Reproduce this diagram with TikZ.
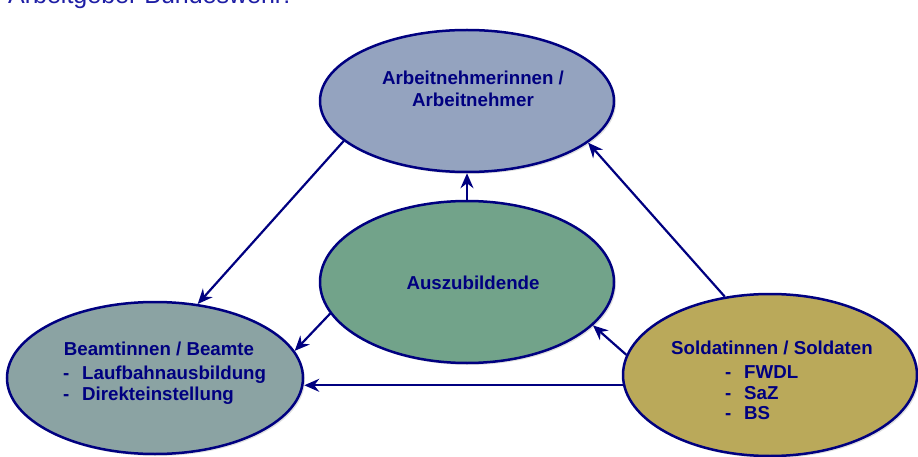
\documentclass[tikz,border=0pt]{standalone}
\usepackage{fontspec}
\setmainfont{Liberation Sans}
\usetikzlibrary{shapes.geometric,arrows.meta,shadows}
\definecolor{navy}{RGB}{0,0,128}
\definecolor{titleblue}{RGB}{30,30,165}
\definecolor{fillT}{RGB}{148,163,191}
\definecolor{fillM}{RGB}{114,163,138}
\definecolor{fillL}{RGB}{139,163,163}
\definecolor{fillR}{RGB}{186,169,90}
\tikzset{
  bubble/.style={ellipse, draw=navy, line width=2.5pt, inner sep=0pt,
    drop shadow={shadow xshift=2pt, shadow yshift=-2pt, opacity=0.25}},
  lbl/.style={text=navy, font=\fontsize{18.7}{22}\selectfont\bfseries, inner sep=0pt},
  arr/.style={draw=navy, line width=2.2pt, -{Stealth[length=15pt,width=13pt,inset=5pt]}}
}
\begin{document}
\begin{tikzpicture}[x=1pt,y=-1pt]
\useasboundingbox (0,0) rectangle (918,457);
\node[anchor=base west, inner sep=0pt, text=titleblue, font=\fontsize{25}{30}\selectfont] (title) at (8,4) {Arbeitgeber Bundeswehr:};

\node[bubble, fill=fillT, minimum width=294pt, minimum height=142pt] (T) at (467,101) {};
\node[bubble, fill=fillM, minimum width=294pt, minimum height=162pt] (M) at (467,282) {};
\node[bubble, fill=fillL, minimum width=296pt, minimum height=152pt] (L) at (155,378) {};
\node[bubble, fill=fillR, minimum width=294pt, minimum height=162pt] (R) at (770,375) {};

% texts
\node[lbl, anchor=base] (t1) at (473,85) {Arbeitnehmerinnen /};
\node[lbl, anchor=base] (t2) at (473,107) {Arbeitnehmer};
\node[lbl, anchor=base] (m1) at (473,289) {Auszubildende};

\node[lbl, anchor=base] (l1) at (159,355) {Beamtinnen / Beamte};
\node[lbl, anchor=base west] (l2d) at (63,379) {-};
\node[lbl, anchor=base west] (l2) at (82,379) {Laufbahnausbildung};
\node[lbl, anchor=base west] (l3d) at (63,400) {-};
\node[lbl, anchor=base west] (l3) at (82,400) {Direkteinstellung};

\node[lbl, anchor=base] (r1) at (772,354) {Soldatinnen / Soldaten};
\node[lbl, anchor=base west] (r2d) at (725,378) {-};
\node[lbl, anchor=base west] (r2) at (744,378) {FWDL};
\node[lbl, anchor=base west] (r3d) at (725,399) {-};
\node[lbl, anchor=base west] (r3) at (744,399) {SaZ};
\node[lbl, anchor=base west] (r4d) at (725,419) {-};
\node[lbl, anchor=base west] (r4) at (744,419) {BS};

% arrows
\draw[arr] (T.198) -- (L.60);
\draw[arr] (M.north) -- (T.south);
\draw[arr] (M.193) -- (L.11);
\draw[arr] (R.184) -- (R.184 -| L.east);
\draw[arr] (R.172) -- (M.341);
\draw[arr] (R.120) -- (T.341);
\end{tikzpicture}
\end{document}
